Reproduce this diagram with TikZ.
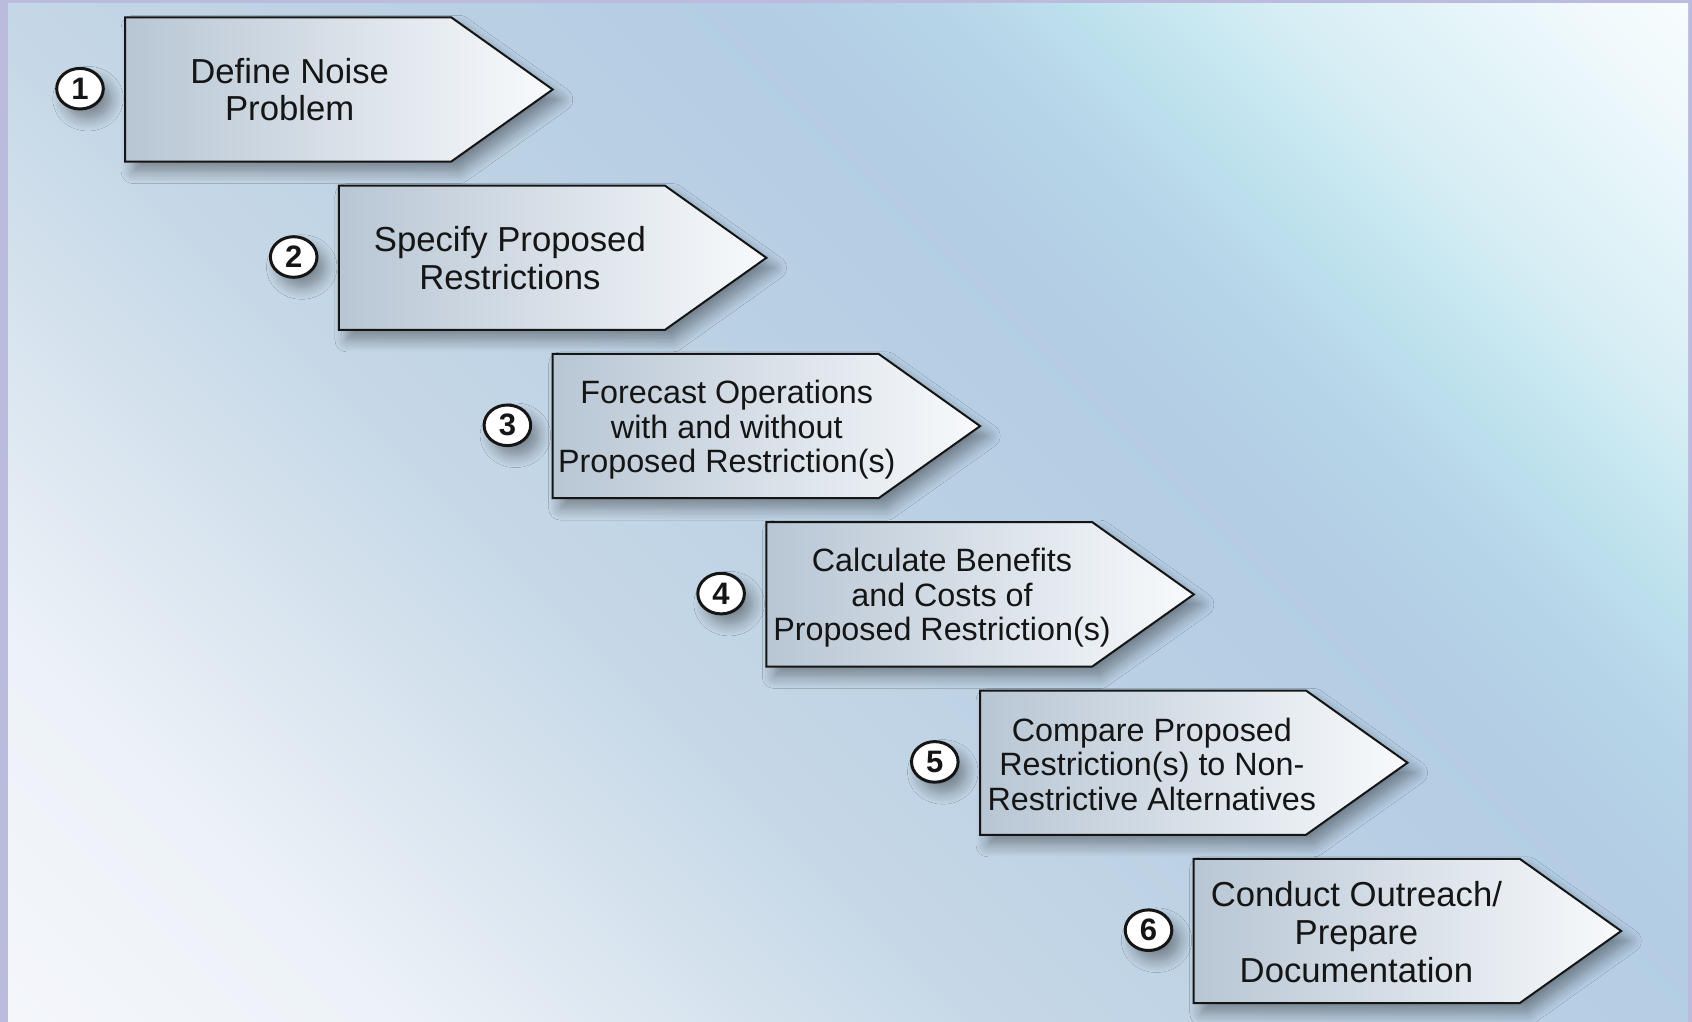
\documentclass[tikz,border=0pt]{standalone}
\usepackage{fontspec}
\setmainfont{Liberation Sans}
\usetikzlibrary{shadows.blur,shapes.geometric}
\definecolor{framecol}{HTML}{BBBBDD}
\definecolor{bg0}{HTML}{F4F6FA}
\definecolor{bg1}{HTML}{EDF2F8}
\definecolor{bg2}{HTML}{C6D8E7}
\definecolor{bg3}{HTML}{BCD1E4}
\definecolor{bg4}{HTML}{B3CDE4}
\definecolor{bg5}{HTML}{B6D4E8}
\definecolor{bg6}{HTML}{BEE2EE}
\definecolor{bg7}{HTML}{D6EEF4}
\definecolor{bg8}{HTML}{F0F9FC}
\definecolor{bg9}{HTML}{F7FCFD}
\definecolor{boxleft}{HTML}{B8C6D4}
\definecolor{boxright}{HTML}{F8FAFC}
\definecolor{ink}{HTML}{151515}
\pgfdeclarehorizontalshading{bgsh}{100bp}{color(0bp)=(bg0); color(14.6bp)=(bg0); color(24.5bp)=(bg1); color(40.1bp)=(bg2); color(50bp)=(bg3); color(60.6bp)=(bg4); color(65.6bp)=(bg5); color(69.8bp)=(bg6); color(74.7bp)=(bg7); color(82.5bp)=(bg8); color(85.4bp)=(bg9); color(100bp)=(bg9)}
\begin{document}
\begin{tikzpicture}[x=0.5pt,y=-0.5pt,
  softshadow/.style={blur shadow={shadow xshift=4pt, shadow yshift=-5pt, shadow blur radius=6pt, shadow blur steps=10, shadow opacity=38}},
  chevron/.style={softshadow, draw=ink, line width=1pt, line join=miter, left color=boxleft, right color=boxright},
  bigtxt/.style={align=center, text=ink, font=\fontsize{17.35}{18.9}\selectfont, inner sep=0pt},
  smalltxt/.style={align=center, text=ink, font=\fontsize{16.15}{17.25}\selectfont, inner sep=0pt},
  numcirc/.style={ellipse, softshadow, draw=ink, line width=1.5pt, fill=white, minimum width=23.3pt, minimum height=20.3pt, inner sep=0pt, text=ink, font=\fontsize{15.5}{16}\selectfont\bfseries}]
\useasboundingbox (0,0) rectangle (1692,1022);
\fill[framecol] (0,0) rectangle (1692,1022);
\shade[shading=bgsh, shading angle=45] (8,4) rectangle (1688,1022);
\foreach \i/\txt/\off/\dy/\fnt in {
  0/{Define Noise\\Problem}/164.5/0/bigtxt,
  1/{Specify Proposed\\Restrictions}/171/0/bigtxt,
  2/{Forecast Operations\\with and without\\Proposed Restriction(s)}/174.2/4/smalltxt,
  3/{Calculate Benefits\\and Costs of\\Proposed Restriction(s)}/175.7/3.5/smalltxt,
  4/{Compare Proposed\\Restriction(s) to Non-\\Restrictive Alternatives}/171.9/1.5/smalltxt,
  5/{Conduct Outreach/\\Prepare\\Documentation}/162.7/1/bigtxt}{
  \pgfmathsetmacro\L{125.2+213.7*\i}
  \pgfmathsetmacro\T{17.3+168.3*\i}
  \pgfmathtruncatemacro\n{\i+1}
  \path[chevron] (\L,\T) -- (\L+326,\T) -- (\L+427.5,\T+72.2) -- (\L+326,\T+144.3) -- (\L,\T+144.3) -- cycle;
  \node[\fnt] (t\n) at (\L+\off,\T+72.2+\dy) {\txt};
  \node[numcirc] (c\n) at (\L-45.2,\T+71.4) {\n};
}
\end{tikzpicture}
\end{document}
